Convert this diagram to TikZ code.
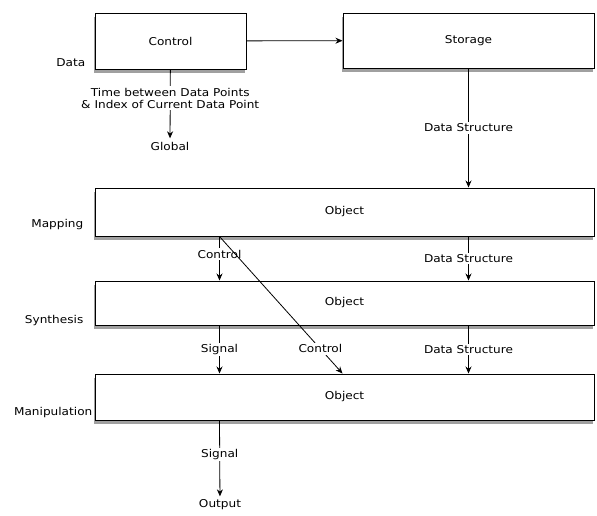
\documentclass[tikz,border=0pt]{standalone}
\usepackage{fontspec}
\setmainfont[FakeStretch=1.12]{DejaVu Sans}
\usetikzlibrary{shadows,arrows.meta}

\begin{document}
\begin{tikzpicture}[x=1pt,y=-1pt,
    font=\fontsize{10.8}{12.5}\selectfont,
    block/.style={draw,line width=1pt,fill=white,inner sep=0pt,
      drop shadow={shadow xshift=-1.5pt,shadow yshift=-3.5pt,opacity=.75,fill=gray}},
    flow/.style={-{Stealth[length=7pt,width=6pt]},line width=.8pt},
    tag/.style={fill=white,inner sep=1.5pt},
    side/.style={anchor=east,inner sep=1pt}]
  \useasboundingbox (0,0) rectangle (597,515);
  % blocks
  \node[block,minimum width=151pt,minimum height=56pt] (ctrl) at (170.5,41) {Control};
  \node[block,minimum width=251pt,minimum height=55pt] (stor) at (468.5,40.5) {Storage};
  \node[block,minimum width=499pt,minimum height=48pt] (map) at (344.5,212) {Object};
  \node[block,minimum width=499pt,minimum height=44pt] (syn) at (344.5,303) {Object};
  \node[block,minimum width=499pt,minimum height=46pt] (man) at (344.5,397) {Object};
  % stage labels
  \node[side] at ([xshift=-8pt,yshift=7pt]ctrl.south west) {Data};
  \node[side] at ([xshift=-10pt,yshift=12pt]map.south west) {Mapping};
  \node[side] at ([xshift=-10pt,yshift=5pt]syn.south west) {Synthesis};
  \node[side] at ([xshift=-1pt,yshift=8pt]man.south west) {Manipulation};
  % end points
  \node (glob) at (170,146) {Global};
  \node (out) at (220,505) {Output};
  \coordinate (mc) at ([xshift=125pt]map.south west);
  \coordinate (sc) at ([xshift=125pt]syn.south west);
  \coordinate (oc) at ([xshift=125pt]man.south west);
  % connectors
  \draw[flow] (ctrl) -- (stor);
  \draw[flow] (ctrl) -- node[tag,align=center,pos=0.42]
    {Time between Data Points\\\& Index of Current Data Point} (glob);
  \draw[flow] (stor.south) -- node[tag]{Data Structure} (stor.south |- map.north);
  \draw[flow] (mc) -- node[tag,pos=0.4]{Control} (mc |- syn.north);
  \draw[flow] (stor.south |- map.south) -- node[tag]{Data Structure} (stor.south |- syn.north);
  \draw[flow] (sc) -- node[tag]{Signal} (sc |- man.north);
  \draw[flow] (stor.south |- syn.south) -- node[tag]{Data Structure} (stor.south |- man.north);
  \draw[flow] (mc) -- node[tag,pos=0.82]{Control} ([xshift=248pt]man.north west);
  \draw[flow] (oc) -- node[tag,pos=0.45]{Signal} (out);
\end{tikzpicture}
\end{document}
